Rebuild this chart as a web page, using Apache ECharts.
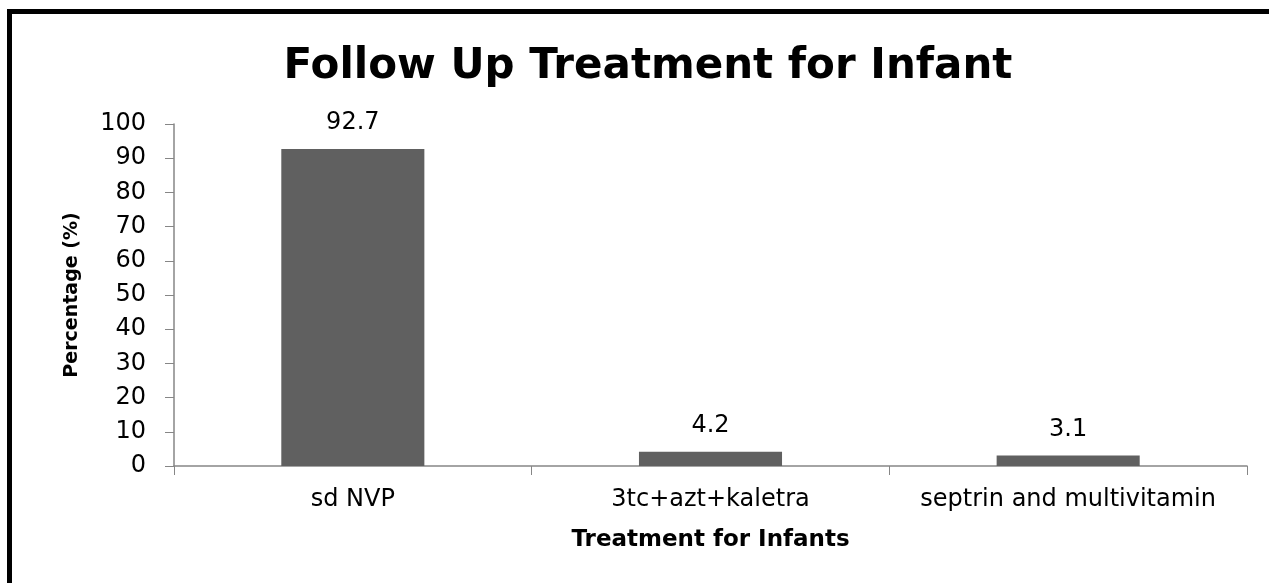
<!DOCTYPE html>
<html>
<head>
<meta charset="utf-8">
<script src="https://cdn.jsdelivr.net/npm/echarts@6/dist/echarts.min.js"></script>
<style>
	html, body { margin: 0; padding: 0; background: #fff; }
	#chart { width: 1269px; height: 583px; }
</style>
</head>
<body>
<div id="chart"></div>
<script>
	// 数据
	var categories = ['sd NVP', '3tc+azt+kaletra', 'septrin and multivitamin'];
	var percentValues = [92.7, 4.2, 3.1];
	var yTicks = { min: 0, max: 100, interval: 10 };

	var myChart = echarts.init(document.getElementById('chart'));
	var axisGrey = '#868686';
	var font = 'DejaVu Sans';

	var option = {
		animation: false,
		backgroundColor: '#fff',
		title: {
			text: 'Follow Up Treatment for Infant',
			left: 643,
			top: 41,
			textAlign: 'center',
			textStyle: {
				fontFamily: font,
				fontWeight: 'bold',
				fontSize: 42,
				color: '#000'
			}
		},
		// 外框
		graphic: [{
			type: 'rect',
			shape: { x: 9.5, y: 11.5, width: 1400, height: 700 },
			style: { fill: 'none', stroke: '#000', lineWidth: 5 },
			silent: true
		}],
		grid: {
			left: 174,
			right: 22,
			top: 124,
			bottom: 117,
			containLabel: false
		},
		xAxis: {
			type: 'category',
			data: categories,
			name: 'Treatment for Infants',
			nameLocation: 'middle',
			nameGap: 63,
			nameTextStyle: {
				fontFamily: font,
				fontWeight: 'bold',
				fontSize: 23,
				color: '#000'
			},
			axisLine: { lineStyle: { color: axisGrey, width: 1.5 } },
			axisTick: { show: true, interval: 0, length: 9, lineStyle: { color: axisGrey } },
			axisLabel: {
				interval: 0,
				fontFamily: font,
				fontSize: 24,
				color: '#000',
				margin: 22
			}
		},
		yAxis: {
			type: 'value',
			min: yTicks.min,
			max: yTicks.max,
			interval: yTicks.interval,
			name: 'Percentage (%)',
			nameLocation: 'middle',
			nameGap: 92,
			nameRotate: 90,
			nameTextStyle: {
				fontFamily: font,
				fontWeight: 'bold',
				fontSize: 19,
				color: '#000'
			},
			axisLine: { show: true, lineStyle: { color: axisGrey, width: 1.5 } },
			axisTick: { show: true, length: 9, lineStyle: { color: axisGrey } },
			splitLine: { show: false },
			axisLabel: {
				fontFamily: font,
				fontSize: 24,
				color: '#000',
				margin: 28
			}
		},
		series: [{
			type: 'bar',
			data: percentValues,
			barWidth: '40%',
			itemStyle: { color: '#606060' },
			label: {
				show: true,
				position: 'top',
				distance: 14,
				fontFamily: font,
				fontSize: 24,
				color: '#000'
			}
		}]
	};

	myChart.setOption(option);
</script>
</body>
</html>
